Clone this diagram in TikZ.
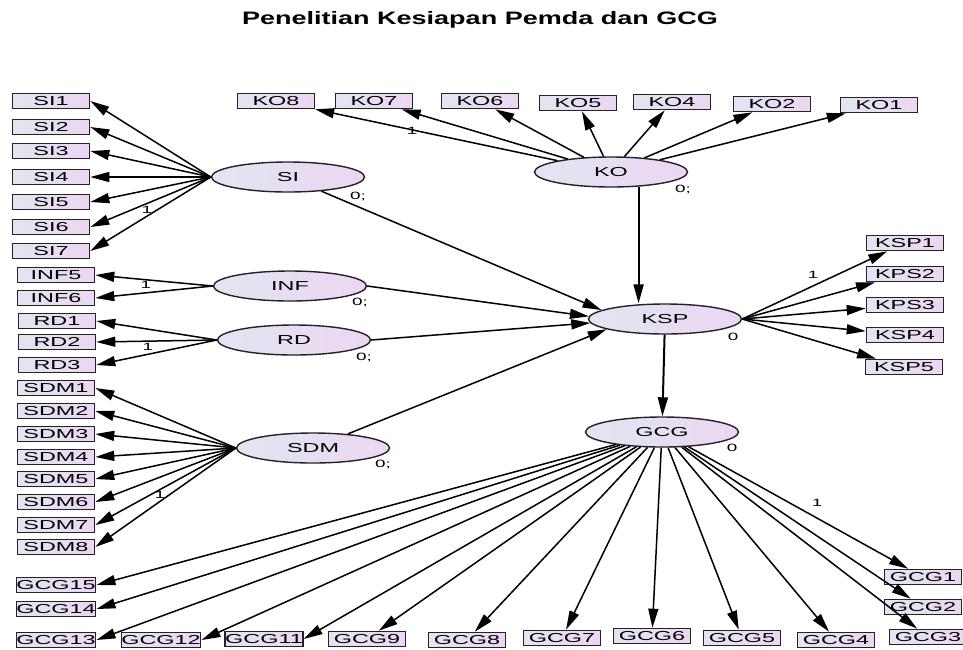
\documentclass[tikz,border=0pt]{standalone}
\usepackage{fontspec}
\setmainfont{Liberation Sans}
\newfontfamily\amosfont[FakeStretch=1.8]{Liberation Sans}
\newfontfamily\amostitle[FakeStretch=1.5]{Liberation Sans}
\usetikzlibrary{arrows.meta,shapes.geometric}
\definecolor{boxleft}{RGB}{226,229,241}
\definecolor{boxright}{RGB}{236,214,243}
\definecolor{rimgray}{RGB}{35,35,35}
\tikzset{every picture/.style={line width=1.5pt}}

\begin{document}
\begin{tikzpicture}[x=1pt,y=1pt,yscale=-1,xscale=1,
    obs/.style={draw=rimgray,line width=1.6pt,left color=boxleft,right color=boxright,minimum width=77pt,minimum height=15pt,inner sep=0pt,font=\amosfont\fontsize{13}{13}\selectfont},
    lat/.style={ellipse,draw=rimgray,line width=1.4pt,left color=boxleft,right color=boxright,minimum width=153pt,minimum height=30pt,inner sep=0pt,font=\amosfont\fontsize{13}{13}\selectfont},
    arr/.style={-{Triangle[length=19pt,width=10pt]},line width=1.5pt},
    est/.style={inner sep=0pt,font=\amosfont\fontsize{10.5}{10.5}\selectfont}]
    \useasboundingbox (0,0) rectangle (963,649);
    % title
    \node (title) at (480,20) {\amostitle\bfseries\fontsize{18}{18}\selectfont Penelitian Kesiapan Pemda dan GCG};
    % latent variables
    \node [lat] (SI) at (288,177) {SI};
    \node [lat] (INF) at (290,286) {INF};
    \node [lat] (RD) at (294,340) {RD};
    \node [lat] (SDM) at (313,448) {SDM};
    \node [lat] (KO) at (611,172) {KO};
    \node [lat] (KSP) at (665,319) {KSP};
    \node [lat] (GCG) at (662,432) {GCG};
    % indicators
    \node [obs] (SI1) at (51,101) {SI1};
    \node [obs] (SI2) at (51,127) {SI2};
    \node [obs] (SI3) at (51,151) {SI3};
    \node [obs] (SI4) at (51,177) {SI4};
    \node [obs] (SI5) at (51,202) {SI5};
    \node [obs] (SI6) at (51,227) {SI6};
    \node [obs] (SI7) at (51,251) {SI7};
    \node [obs] (INF5) at (56,275) {INF5};
    \node [obs] (INF6) at (56,298) {INF6};
    \node [obs] (RD1) at (57,321) {RD1};
    \node [obs] (RD2) at (57,342) {RD2};
    \node [obs] (RD3) at (57,365) {RD3};
    \node [obs] (SDM1) at (56,388) {SDM1};
    \node [obs] (SDM2) at (56,411) {SDM2};
    \node [obs] (SDM3) at (56,434) {SDM3};
    \node [obs] (SDM4) at (56,457) {SDM4};
    \node [obs] (SDM5) at (56,479) {SDM5};
    \node [obs] (SDM6) at (56,502) {SDM6};
    \node [obs] (SDM7) at (56,525) {SDM7};
    \node [obs] (SDM8) at (56,547) {SDM8};
    \node [obs] (KO8) at (276,101) {KO8};
    \node [obs] (KO7) at (374,101) {KO7};
    \node [obs] (KO6) at (480,101) {KO6};
    \node [obs] (KO5) at (578,103) {KO5};
    \node [obs] (KO4) at (672,102) {KO4};
    \node [obs] (KO2) at (772,104) {KO2};
    \node [obs] (KO1) at (879,105) {KO1};
    \node [obs] (KSP1) at (905,243) {KSP1};
    \node [obs] (KPS2) at (905,274) {KPS2};
    \node [obs] (KPS3) at (905,305) {KPS3};
    \node [obs] (KSP4) at (905,335) {KSP4};
    \node [obs] (KSP5) at (904,367) {KSP5};
    \node [obs] (GCG1) at (923,577) {GCG1};
    \node [obs] (GCG2) at (923,607) {GCG2};
    \node [obs] (GCG3) at (928,637) {GCG3};
    \node [obs] (GCG4) at (836,640) {GCG4};
    \node [obs] (GCG5) at (742,638) {GCG5};
    \node [obs] (GCG6) at (652,636) {GCG6};
    \node [obs] (GCG7) at (562,638) {GCG7};
    \node [obs] (GCG8) at (467,640) {GCG8};
    \node [obs] (GCG9) at (367,639) {GCG9};
    \node [obs] (GCG11) at (264,639) {GCG11};
    \node [obs] (GCG12) at (161,640) {GCG12};
    \node [obs] (GCG13) at (56,640) {GCG13};
    \node [obs] (GCG14) at (56,609) {GCG14};
    \node [obs] (GCG15) at (56,585) {GCG15};
    % loadings
    \draw [arr] (SI.west) -- (SI1.east);
    \draw [arr] (SI.west) -- (SI2.east);
    \draw [arr] (SI.west) -- (SI3.east);
    \draw [arr] (SI.west) -- (SI4.east);
    \draw [arr] (SI.west) -- (SI5.east);
    \draw [arr] (SI.west) -- (SI6.east);
    \draw [arr] (SI.west) -- (SI7.east);
    \draw [arr] (INF.west) -- (INF5.east);
    \draw [arr] (INF.west) -- (INF6.east);
    \draw [arr] (RD.west) -- (RD1.east);
    \draw [arr] (RD.west) -- (RD2.east);
    \draw [arr] (RD.west) -- (RD3.east);
    \draw [arr] (SDM.west) -- (SDM1.east);
    \draw [arr] (SDM.west) -- (SDM2.east);
    \draw [arr] (SDM.west) -- (SDM3.east);
    \draw [arr] (SDM.west) -- (SDM4.east);
    \draw [arr] (SDM.west) -- (SDM5.east);
    \draw [arr] (SDM.west) -- (SDM6.east);
    \draw [arr] (SDM.west) -- (SDM7.east);
    \draw [arr] (SDM.west) -- (SDM8.east);
    \draw [arr] (KO) -- (KO8);
    \draw [arr] (KO) -- (KO7);
    \draw [arr] (KO) -- (KO6);
    \draw [arr] (KO) -- (KO5);
    \draw [arr] (KO) -- (KO4);
    \draw [arr] (KO) -- (KO2);
    \draw [arr] (KO) -- (KO1);
    \draw [arr] (KSP.east) -- (KSP1);
    \draw [arr] (KSP.east) -- (KPS2);
    \draw [arr] (KSP.east) -- (KPS3);
    \draw [arr] (KSP.east) -- (KSP4);
    \draw [arr] (KSP.east) -- (KSP5);
    \draw [arr] (GCG) -- (GCG1);
    \draw [arr] (GCG) -- (GCG2);
    \draw [arr] (GCG) -- (GCG3);
    \draw [arr] (GCG) -- (GCG4);
    \draw [arr] (GCG) -- (GCG5);
    \draw [arr] (GCG) -- (GCG6);
    \draw [arr] (GCG) -- (GCG7);
    \draw [arr] (GCG) -- (GCG8);
    \draw [arr] (GCG) -- (GCG9);
    \draw [arr] (GCG) -- (GCG11.east);
    \draw [arr] (GCG) -- (GCG12.east);
    \draw [arr] (GCG) -- (GCG13.east);
    \draw [arr] (GCG) -- (GCG14.east);
    \draw [arr] (GCG) -- (GCG15.east);
    % structural paths
    \draw [arr] (SI) -- (KSP.172);
    \draw [arr] (INF.east) -- (KSP.178);
    \draw [arr] (RD.east) -- (KSP.183);
    \draw [arr] (SDM) -- (KSP.190);
    \draw [arr,line width=2pt] (KO.-28) -- (KO.-28 |- KSP.north);
    \draw [arr,line width=2pt] (KSP) -- (GCG);
    % estimates
    \node [est] (fSI) at (147,210) {1};
    \node [est] (vSI) at (358,196) {0;};
    \node [est] (fKO) at (412,131) {1};
    \node [est] (vKO) at (683,189) {0;};
    \node [est] (fINF) at (146,285) {1};
    \node [est] (vINF) at (360,302) {0;};
    \node [est] (fRD) at (148,347) {1};
    \node [est] (vRD) at (364,357) {0;};
    \node [est] (fSDM) at (160,495) {1};
    \node [est] (vSDM) at (383,464) {0;};
    \node [est] (fKSP) at (813,275) {1};
    \node [est] (vKSP) at (733,337) {0};
    \node [est] (fGCG) at (817,503) {1};
    \node [est] (vGCG) at (732,448) {0};
\end{tikzpicture}
\end{document}
